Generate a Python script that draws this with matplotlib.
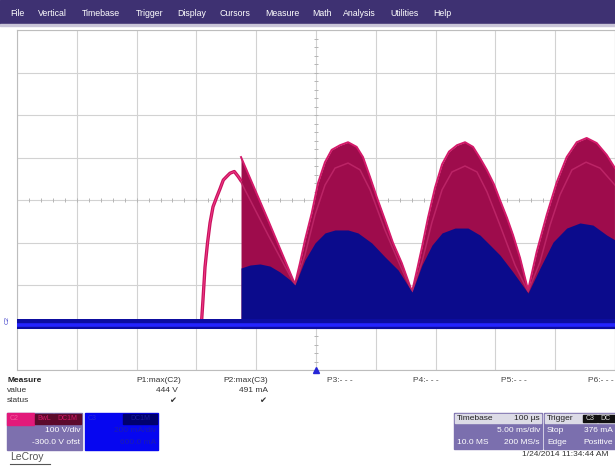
from matplotlib import pyplot as plt
from matplotlib.patches import Rectangle
import numpy as np

W, H = 615, 466

"""
Data (read off the scope screen, time in ms, C2 in V, C3 in mA)
"""

# C2 charging hump before the switch-on
c2_rise_t = [-9.70, -9.56, -9.45, -9.28, -9.07, -8.86, -8.61, -8.30, -8.03,
             -7.75, -7.44, -7.19, -6.83, -6.50, -6.31]
c2_rise_v = [13, 18, 65, 142, 199, 246, 284, 307, 326, 347, 356, 363, 367,
             355, 347]

# C2 upper envelope (persistence)
c2_env_t = [-6.27, -4.01, -1.76, -1.34, -0.92, -0.36, 0.17, 0.75, 1.31, 2.01,
            2.68, 3.40, 3.93, 4.52, 5.08, 5.77, 6.44, 7.17, 8.03, 8.44, 8.86,
            9.36, 9.95, 10.54, 11.12, 11.79, 12.46, 13.13, 13.71, 14.30,
            14.88, 15.38, 15.97, 16.47, 17.06, 17.73, 18.45, 19.29, 20.13,
            20.96, 21.80, 22.63, 23.47, 24.31, 25.0]
c2_env_v = [401, 253, 102, 152, 206, 269, 340, 389, 418, 429, 436, 425, 401,
            354, 307, 253, 199, 152, 84, 135, 189, 258, 329, 384, 414, 429,
            436, 425, 399, 370, 337, 300, 258, 218, 164, 88, 178, 265, 342,
            401, 436, 446, 434, 406, 375]

# C2 lighter inner trace
c2_mid_t = [-6.27, -4.01, -1.76, -0.92, -0.08, 0.75, 1.59, 2.68, 3.68, 4.52,
            5.77, 7.02, 8.03, 8.86, 9.70, 10.54, 11.37, 12.46, 13.46, 14.30,
            15.38, 16.64, 17.73, 18.73, 19.57, 20.40, 21.40, 22.58, 23.75,
            25.0]
c2_mid_v = [342, 218, 100, 171, 265, 335, 375, 387, 371, 324, 229, 147, 84,
            154, 248, 324, 366, 380, 366, 319, 241, 147, 84, 154, 241, 312,
            371, 389, 375, 335]

# C3 upper envelope
c3_env_t = [-6.27, -5.52, -4.68, -3.85, -3.01, -2.17, -1.76, -0.92, -0.08,
            0.75, 1.59, 2.68, 3.51, 4.66, 5.77, 6.86, 8.03, 8.86, 9.70, 10.54,
            11.62, 12.71, 13.71, 14.55, 15.38, 16.47, 17.73, 18.73, 19.82,
            20.96, 22.07, 23.16, 24.31, 25.0]
c3_env_ma = [280, 294, 299, 289, 261, 224, 200, 318, 398, 445, 459, 459, 445,
             398, 332, 271, 167, 294, 388, 445, 468, 468, 435, 388, 341, 261,
             162, 280, 402, 468, 492, 482, 435, 412]

# C3 baseline noise band
base_t = [-25, 25]
base_lo = [-6, -6]
base_hi = [40, 40]
base_mid = [12, 12]

menu = [('File', 10), ('Vertical', 38), ('Timebase', 82), ('Trigger', 136),
        ('Display', 177), ('Cursors', 220), ('Measure', 265), ('Math', 312),
        ('Analysis', 343), ('Utilities', 390), ('Help', 433)]

FONT = ['Liberation Sans', 'DejaVu Sans']


def fx(x):
    return x / W


def fy(y):
    return 1 - y / H


def box(fig, x0, y0, x1, y1, color):
    fig.patches.append(Rectangle((fx(x0), fy(y1)), (x1 - x0) / W,
                                 (y1 - y0) / H, transform=fig.transFigure,
                                 color=color, zorder=1))


def txt(fig, x, y, s, ha='left', color='#333333', size=6, **kw):
    fig.text(fx(x), fy(y), s, ha=ha, va='center', color=color,
             fontsize=size, family=FONT, **kw)


def scope(fig):
    ax = fig.add_axes([fx(17), fy(370), (W - 17) / W, 340 / H])
    ax.set_xlim(-25, 25)
    ax.set_ylim(-100, 700)
    ax.set_xticks(np.arange(-25, 26, 5))
    ax.set_yticks(np.arange(-100, 701, 100))
    ax.grid(True, color='#d2d2d2', lw=0.8)
    ax.set_axisbelow(True)
    ax.tick_params(length=0, labelbottom=False, labelleft=False)
    for s in ax.spines.values():
        s.set_color('#bdbdbd')
        s.set_linewidth(0.8)
    # centre axes with small ticks
    tx = np.arange(-25, 25.1, 1)
    ax.plot(tx, np.full(len(tx), 300), ls='', marker='|', ms=3,
            color='#b5b5b5', mew=0.7, zorder=1)
    ty = np.arange(-100, 701, 20)
    ax.plot(np.zeros(len(ty)), ty, ls='', marker='_', ms=3,
            color='#b5b5b5', mew=0.7, zorder=1)

    # C2
    ax.fill_between(c2_env_t, 0, c2_env_v, color='#9e0c4c', lw=0, zorder=2)
    ax.plot(c2_env_t, c2_env_v, color='#d41a6a', lw=1.4, zorder=3)
    ax.plot(c2_mid_t, c2_mid_v, color='#bb2466', lw=1.1, zorder=3)
    ax.plot(c2_rise_t, c2_rise_v, color='#c8125e', lw=2.4, zorder=5)
    ax.plot(c2_rise_t, c2_rise_v, color='#f03a86', lw=0.7, zorder=5)

    # C3 on its own scale
    ax2 = ax.twinx()
    ax2.set_ylim(-200, 1400)
    ax2.axis('off')
    ax2.fill_between(c3_env_t, -5, c3_env_ma, color='#0b0b8c', lw=0)
    ax2.fill_between(base_t, base_lo, base_hi, color='#0d0da0', lw=0)
    ax2.plot(base_t, base_mid, color='#2424ff', lw=2.6)

    # trigger marker
    ax.plot([0], [0], transform=ax.get_xaxis_transform(), marker='^',
            ms=5, color='#2626d6', clip_on=False, zorder=6)
    txt(fig, 7, 320, 'C2', color='#3a3ac8', size=4.5, rotation=90,
        ha='center')


def bottom(fig):
    txt(fig, 7, 381, 'Measure', weight='bold', color='#222222')
    txt(fig, 7, 391, 'value')
    txt(fig, 7, 401, 'status')
    txt(fig, 181, 381, 'P1:max(C2)', ha='right')
    txt(fig, 178, 391, '444 V', ha='right')
    txt(fig, 176, 402, '\u2714', ha='right')
    txt(fig, 268, 381, 'P2:max(C3)', ha='right')
    txt(fig, 268, 391, '491 mA', ha='right')
    txt(fig, 266, 402, '\u2714', ha='right')
    for s, x in [('P3:- - -', 327), ('P4:- - -', 413), ('P5:- - -', 501),
                 ('P6:- - -', 588)]:
        txt(fig, x, 381, s, color='#444444')

    # C2 channel box
    box(fig, 7, 413, 82, 450, '#7d70ae')
    box(fig, 7, 413, 34, 425, '#e2197a')
    box(fig, 35, 414, 53, 424, '#5c0a2c')
    box(fig, 54, 414, 81, 424, '#5c0a2c')
    txt(fig, 10, 419, 'C2', color='#f25a9c', size=5)
    txt(fig, 44, 419, 'BwL', color='#d21868', size=5, ha='center')
    txt(fig, 67, 419, 'DC1M', color='#d21868', size=5, ha='center')
    txt(fig, 80, 431, '100 V/div', ha='right', color='white')
    txt(fig, 80, 443, '-300.0 V ofst', ha='right', color='white')

    # C3 channel box
    box(fig, 85, 413, 158, 450, '#0606f0')
    box(fig, 123, 414, 157, 424, '#00006e')
    txt(fig, 88, 419, 'C3', color='#2a2ad0', size=5)
    txt(fig, 140, 419, 'DC1M', color='#1a1a9a', size=5, ha='center')
    txt(fig, 156, 431, '200 mA/div', ha='right', color='#1c1cb0')
    txt(fig, 156, 443, '600.0 mA', ha='right', color='#1c1cb0')

    txt(fig, 10, 457, 'LeCroy', color='#555555', size=7.5)
    fig.lines.append(plt.Line2D([fx(10), fx(50)], [fy(464), fy(464)],
                                transform=fig.transFigure, color='#555555',
                                lw=0.8))

    # timebase box
    box(fig, 454, 413, 542, 449, '#7b6fae')
    box(fig, 455, 414, 541, 423, '#dcdbe6')
    txt(fig, 457, 418, 'Timebase', color='#222222')
    txt(fig, 540, 418, '100 \u00b5s', ha='right', color='#222222')
    txt(fig, 540, 431, '5.00 ms/div', ha='right', color='white')
    txt(fig, 457, 442, '10.0 MS', color='white')
    txt(fig, 540, 442, '200 MS/s', ha='right', color='white')

    # trigger box
    box(fig, 544, 413, 615, 449, '#7b6fae')
    box(fig, 545, 414, 615, 423, '#dcdbe6')
    box(fig, 583, 415, 597, 422, '#111111')
    box(fig, 598, 415, 615, 422, '#111111')
    txt(fig, 547, 418, 'Trigger', color='#222222')
    txt(fig, 590, 418, 'C3', color='#dddddd', size=5, ha='center')
    txt(fig, 600, 418, 'DC', color='#dddddd', size=5)
    txt(fig, 547, 431, 'Stop', color='white')
    txt(fig, 613, 431, '376 mA', color='white', ha='right')
    txt(fig, 547, 442, 'Edge', color='white')
    txt(fig, 613, 442, 'Positive', color='white', ha='right')

    txt(fig, 609, 455, '1/24/2014 11:34:44 AM', ha='right')


def menubar(fig):
    box(fig, 0, 0, W, 24, '#3e3172')
    box(fig, 0, 24, W, 26, '#c9c5d8')
    for s, x in menu:
        txt(fig, x, 13, s, color='white', size=6.3)


def plot_master():
    fig = plt.figure(figsize=(W / 100, H / 100), dpi=100)
    fig.patch.set_facecolor('white')
    menubar(fig)
    scope(fig)
    bottom(fig)
    fig.savefig('out.png', dpi=100)
    return 0


if __name__ == '__main__':
    plot_master()
